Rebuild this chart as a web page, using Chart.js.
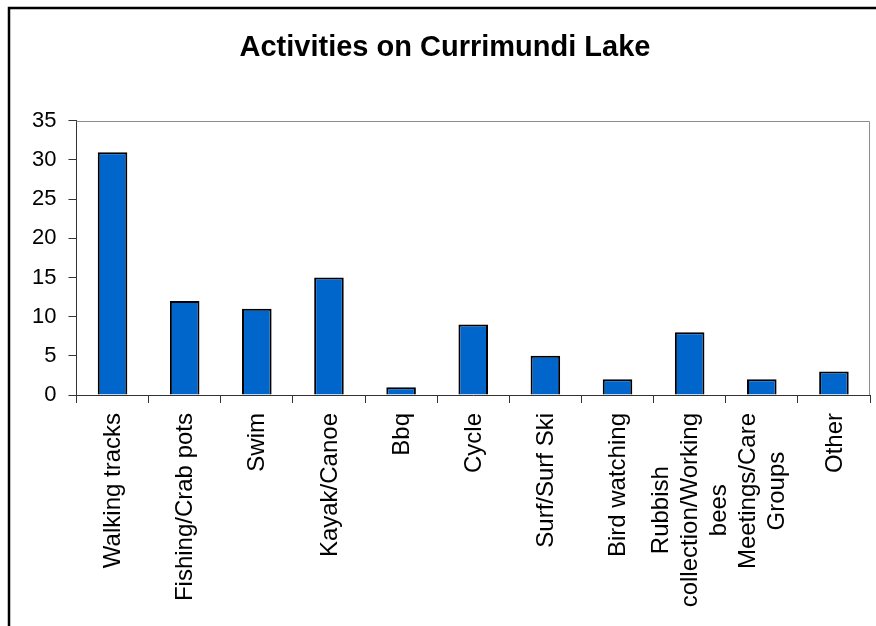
<!DOCTYPE html>
<html>
<head>
<meta charset="utf-8">
<script src="https://cdn.jsdelivr.net/npm/chart.js@4/dist/chart.umd.min.js"></script>
<style>
  html, body { margin: 0; padding: 0; background: #fff; }
  #wrap { width: 876px; height: 626px; position: relative; }
</style>
</head>
<body>
<div id="wrap"><canvas id="chart" width="876" height="626"></canvas></div>
<script>
// Activities on Currimundi Lake — counts per activity
const categories = [
  'Walking tracks', 'Fishing/Crab pots', 'Swim', 'Kayak/Canoe', 'Bbq', 'Cycle',
  'Surf/Surf Ski', 'Bird watching', ['Rubbish', 'collection/Working', 'bees'],
  ['Meetings/Care', 'Groups'], 'Other',
];
const counts = [31, 12, 11, 15, 1, 9, 5, 2, 8, 2, 3];
const yTicks = [0, 5, 10, 15, 20, 25, 30, 35];

const FONT = 'Arial, "Liberation Sans", sans-serif';
const BAR = '#0066cc';
const AXIS_LINE = '#333';
const FRAME = '#8c8c8c';

// Outer chart border (left + top only are visible in the original) and the grey plot frame.
const framePlugin = {
  id: 'frame',
  beforeDraw(chart) {
    const ctx = chart.ctx;
    ctx.save();
    ctx.strokeStyle = '#000';
    ctx.lineWidth = 2.5;
    ctx.beginPath();
    ctx.moveTo(9, 640);
    ctx.lineTo(9, 8);
    ctx.lineTo(900, 8);
    ctx.stroke();
    ctx.restore();
  },
  beforeDatasetsDraw(chart) {
    const { ctx, chartArea: a } = chart;
    ctx.save();
    ctx.strokeStyle = FRAME;
    ctx.lineWidth = 1;
    ctx.beginPath();
    ctx.moveTo(Math.round(a.left) + 0.5, Math.round(a.top) + 0.5);
    ctx.lineTo(Math.round(a.right) - 0.5, Math.round(a.top) + 0.5);
    ctx.lineTo(Math.round(a.right) - 0.5, Math.round(a.bottom));
    ctx.stroke();
    ctx.restore();
  },
};

// Rotated x labels: block ends at the axis, lines centred inside the block (Excel style).
const xLabelPlugin = {
  id: 'xlabels',
  afterDraw(chart) {
    const { ctx, scales: { x }, chartArea } = chart;
    const lineH = 29;
    ctx.save();
    ctx.fillStyle = '#000';
    ctx.font = '24px ' + FONT;
    ctx.textAlign = 'center';
    ctx.textBaseline = 'middle';
    categories.forEach((lab, i) => {
      const lines = Array.isArray(lab) ? lab : [lab];
      const w = Math.max(...lines.map((l) => ctx.measureText(l).width));
      const px = x.getPixelForValue(i);
      ctx.save();
      ctx.translate(px, chartArea.bottom + 18);
      ctx.rotate(-Math.PI / 2);
      lines.forEach((l, j) => {
        ctx.fillText(l, -w / 2, (j - (lines.length - 1) / 2) * lineH + 1);
      });
      ctx.restore();
    });
    ctx.restore();
  },
};

new Chart(document.getElementById('chart'), {
  type: 'bar',
  data: {
    labels: categories,
    datasets: [{
      data: counts,
      backgroundColor: BAR,
      borderColor: '#000',
      borderWidth: 2,
      borderSkipped: 'bottom',
      barPercentage: 0.41,
      categoryPercentage: 1,
    }],
  },
  options: {
    responsive: false,
    animation: false,
    layout: { padding: { left: 20, right: 6, top: 0, bottom: 223 } },
    plugins: {
      legend: { display: false },
      tooltip: { enabled: false },
      title: {
        display: true,
        text: 'Activities on Currimundi Lake',
        color: '#000',
        font: { family: FONT, size: 29, weight: 'bold', lineHeight: 1.2 },
        padding: { top: 31, bottom: 55 },
      },
    },
    scales: {
      x: {
        offset: true,
        ticks: { display: false },
        grid: { offset: true, drawOnChartArea: false, drawTicks: true, tickLength: 8, color: AXIS_LINE },
        border: { color: AXIS_LINE, width: 1 },
      },
      y: {
        min: 0,
        max: 35,
        afterBuildTicks: (s) => { s.ticks = yTicks.map((v) => ({ value: v })); },
        ticks: { color: '#000', padding: 12, font: { family: FONT, size: 22 } },
        grid: { drawOnChartArea: false, drawTicks: true, tickLength: 8, color: AXIS_LINE },
        border: { color: AXIS_LINE, width: 1 },
      },
    },
  },
  plugins: [framePlugin, xLabelPlugin],
});
</script>
</body>
</html>
